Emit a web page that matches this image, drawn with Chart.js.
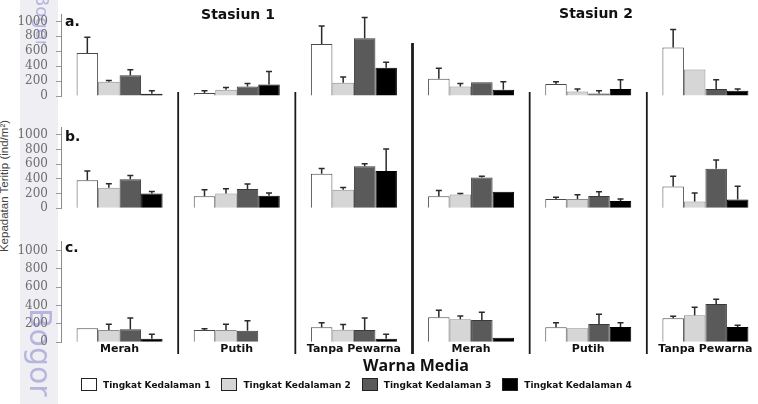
<!DOCTYPE html>
<html>
<head>
<meta charset="utf-8">
<script src="https://cdn.jsdelivr.net/npm/chart.js@4.4.1/dist/chart.umd.min.js"></script>
<style>
  body { margin: 0; width: 758px; height: 404px; overflow: hidden; background: #fff; position: relative; font-family: "DejaVu Sans", sans-serif; }
  canvas { position: absolute; left: 0; }
  #band { position: absolute; left: 20px; top: 0; width: 38px; height: 404px; background: #eeeef3; }
  .wm { position: absolute; color: rgba(110, 110, 195, 0.45); font-family: "DejaVu Sans", sans-serif; transform-origin: 0 0; transform: rotate(90deg); white-space: nowrap; z-index: 5; }
  #ytitle { position: absolute; left: 4px; top: 186px; transform: translate(-50%, -50%) rotate(-90deg); font: 11.5px "Liberation Sans", sans-serif; color: #444; white-space: nowrap; }
  .lbl { position: absolute; transform: translate(-50%, -50%); white-space: nowrap; color: #111; }
  .panel { position: absolute; font: bold 14px "DejaVu Sans", sans-serif; color: #111; }
  #legend { position: absolute; left: 81px; top: 378px; display: flex; align-items: center; font: bold 9px "DejaVu Sans", sans-serif; color: #111; }
  #legend .item { display: flex; align-items: center; margin-right: 11px; }
  #legend .sw { width: 14px; height: 11px; border: 1px solid #222; margin-right: 6px; }
</style>
</head>
<body>
<div id="band"></div>
<div class="wm" style="left:53px; top:-6px; font-size:18px;">Bogor</div>
<div class="wm" style="left:58px; top:308px; font-size:30px;">Bogor</div>
<div id="ytitle">Kepadatan Teritip (ind/m²)</div>
<canvas id="chartA" width="764" height="120" style="top:0"></canvas>
<canvas id="chartB" width="764" height="112" style="top:120px"></canvas>
<canvas id="chartC" width="764" height="172" style="top:232px"></canvas>
<div class="lbl" style="left:238px; top:14px; font: bold 14px 'DejaVu Sans';">Stasiun 1</div>
<div class="lbl" style="left:596px; top:13px; font: bold 14px 'DejaVu Sans';">Stasiun 2</div>
<div class="panel" style="left:65px; top:13px;">a.</div>
<div class="panel" style="left:65px; top:128px;">b.</div>
<div class="panel" style="left:65px; top:239px;">c.</div>
<div class="lbl" style="left:416px; top:365px; font: bold 16px 'Open Sans';">Warna Media</div>
<div id="legend"></div>
<script>
const categories = ['Merah', 'Putih', 'Tanpa Pewarna', 'Merah', 'Putih', 'Tanpa Pewarna'];
const levels = ['Tingkat Kedalaman 1', 'Tingkat Kedalaman 2', 'Tingkat Kedalaman 3', 'Tingkat Kedalaman 4'];
const fills = ['#ffffff', '#d6d6d6', '#5a5a5a', '#000000'];
const edges = ['#4a4a4a', '#8c8c8c', '#3a3a3a', '#000000'];
const yTicks = [0, 200, 400, 600, 800, 1000];

// panel a
const a1 = [577, 40, 699, 233, 161, 652];
const a1Err = [211, 32, 240, 140, 29, 240];
const a2 = [190, 83, 179, 129, 61, 355];
const a2Err = [18, 32, 75, 40, 33, 0];
const a3 = [280, 129, 774, 183, 32, 94];
const a3Err = [72, 40, 280, 0, 40, 124];
const a4 = [29, 154, 380, 83, 94, 72];
const a4Err = [43, 176, 72, 107, 124, 22];

// panel b
const b1 = [382, 164, 469, 164, 127, 298];
const b1Err = [127, 87, 72, 79, 22, 139];
const b2 = [279, 200, 251, 189, 127, 91];
const b2Err = [55, 65, 33, 14, 59, 116];
const b3 = [396, 262, 571, 421, 167, 538];
const b3Err = [52, 69, 36, 16, 58, 120];
const b4 = [200, 170, 509, 225, 98, 120];
const b4Err = [29, 37, 299, 0, 29, 181];

// panel c
const c1 = [153, 134, 164, 273, 164, 262];
const c1Err = [0, 14, 50, 76, 50, 22];
const c2 = [134, 134, 138, 251, 153, 295];
const c2Err = [63, 63, 55, 36, 0, 87];
const c3 = [142, 127, 134, 243, 200, 418];
const c3Err = [123, 109, 131, 84, 106, 51];
const c4 = [39, null, 39, 50, 167, 167];
const c4Err = [48, 0, 48, 0, 47, 19];

// legend
const legend = document.getElementById('legend');
levels.forEach((name, i) => {
  const item = document.createElement('div');
  item.className = 'item';
  item.innerHTML = '<span class="sw" style="background:' + fills[i] + '"></span>' + name;
  legend.appendChild(item);
});

const errorBars = {
  id: 'errorBars',
  afterDatasetsDraw(chart) {
    const ctx = chart.ctx;
    const ys = chart.scales.y;
    ctx.save();
    ctx.strokeStyle = '#2a2a2a';
    ctx.lineWidth = 1.5;
    chart.data.datasets.forEach((ds, di) => {
      chart.getDatasetMeta(di).data.forEach((bar, i) => {
        const v = ds.data[i], e = ds.errors[i];
        if (v == null || !e) return;
        const yTop = ys.getPixelForValue(v + e);
        ctx.beginPath();
        ctx.moveTo(bar.x, bar.y);
        ctx.lineTo(bar.x, yTop);
        ctx.moveTo(bar.x - 3, yTop);
        ctx.lineTo(bar.x + 3, yTop);
        ctx.stroke();
      });
    });
    ctx.restore();
  }
};

const separators = {
  id: 'separators',
  afterDraw(chart, args, opts) {
    const xs = chart.scales.x;
    const ctx = chart.ctx;
    ctx.save();
    ctx.strokeStyle = '#1a1a1a';
    for (let i = 0; i < categories.length - 1; i++) {
      const x = (xs.getPixelForValue(i) + xs.getPixelForValue(i + 1)) / 2;
      const thick = i === 2;
      ctx.lineWidth = thick ? 2.8 : 1.8;
      ctx.beginPath();
      ctx.moveTo(x, thick ? opts.thickTop : opts.top);
      ctx.lineTo(x, opts.bottom);
      ctx.stroke();
    }
    ctx.restore();
  }
};

function makeChart(id, vals, errs, pad, showX, sep) {
  return new Chart(document.getElementById(id), {
    type: 'bar',
    data: {
      labels: categories,
      datasets: levels.map((name, i) => ({
        label: name,
        data: vals[i],
        errors: errs[i],
        backgroundColor: fills[i],
        borderColor: edges[i],
        borderWidth: 1,
        categoryPercentage: 0.734,
        barPercentage: 1.0
      }))
    },
    options: {
      responsive: false,
      animation: false,
      events: [],
      layout: { padding: pad },
      plugins: {
        legend: { display: false },
        tooltip: { enabled: false },
        separators: sep
      },
      scales: {
        x: {
          display: showX,
          grid: { display: false, drawTicks: false, tickLength: 0 },
          border: { display: false },
          ticks: {
            autoSkip: false, maxRotation: 0, padding: 0,
            color: '#111', font: { family: 'DejaVu Sans', size: 11, weight: 'bold' }
          },
          afterFit: s => { s.height = 20; s.paddingLeft = 0; s.paddingRight = 0; }
        },
        y: {
          min: 0, max: 1100,
          afterBuildTicks: s => { s.ticks = yTicks.map(v => ({ value: v })); },
          afterFit: s => { s.width = 61; s.paddingTop = 0; s.paddingBottom = 0; },
          border: { color: '#8a8a8a', width: 1 },
          grid: { drawOnChartArea: false, tickLength: 5, color: '#9a9a9a' },
          ticks: {
            autoSkip: false, padding: 8, color: '#6e6e6e',
            font: { family: 'DejaVu Serif', size: 12 },
            callback: v => String(v)
          }
        }
      }
    },
    plugins: [errorBars, separators]
  });
}

makeChart('chartA', [a1, a2, a3, a4], [a1Err, a2Err, a3Err, a4Err],
  { top: 14, bottom: 4, left: 0, right: 0 }, false, { top: 92, thickTop: 43, bottom: 120 });
makeChart('chartB', [b1, b2, b3, b4], [b1Err, b2Err, b3Err, b4Err],
  { top: 7.5, bottom: 3.7, left: 0, right: 0 }, false, { top: 0, thickTop: 0, bottom: 112 });
makeChart('chartC', [c1, c2, c3, c4], [c1Err, c2Err, c3Err, c4Err],
  { top: 9.5, bottom: 41.7, left: 0, right: 0 }, true, { top: 0, thickTop: 0, bottom: 122 });
</script>
</body>
</html>
